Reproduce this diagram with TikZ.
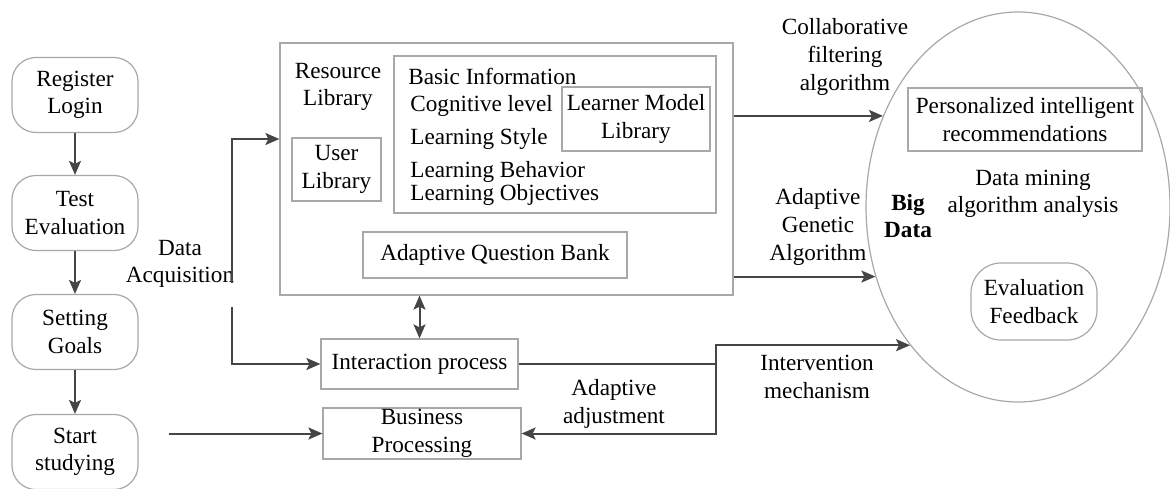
\documentclass[tikz,border=0pt]{standalone}
\usepackage{fontspec}
\setmainfont{Liberation Serif}
\usetikzlibrary{calc, shapes.geometric, arrows.meta, positioning}

\definecolor{boxgray}{HTML}{A8A8A8}
\definecolor{linegray}{HTML}{454545}

\begin{document}
\begin{tikzpicture}[
  x=0.5pt, y=-0.5pt,
  font=\fontsize{11.6}{13.8}\selectfont,
  box/.style={rectangle, draw=boxgray, line width=0.6pt, align=center, inner sep=0pt},
  stepbox/.style={box, rounded corners=12pt, minimum width=63pt, minimum height=37.5pt},
  txt/.style={align=center, inner sep=0pt},
  arrow/.style={-{Stealth[length=7pt,width=6pt,inset=1.5pt]}, draw=linegray, line width=1pt},
  dblarrow/.style={arrow, {Stealth[length=7pt,width=6pt,inset=1.5pt]}-{Stealth[length=7pt,width=6pt,inset=1.5pt]}},
  link/.style={draw=linegray, line width=1pt}
]
  \useasboundingbox (0,0) rectangle (1170,488);

  % learner steps
  \node[stepbox] (reg) at (75,95) {Register\\Login};
  \node[stepbox] (test) at (75,213) {Test\\Evaluation};
  \node[stepbox] (goals) at (75,332) {Setting\\Goals};
  \node[stepbox] (study) at (75,452) {Start\\studying};

  % resource library
  \node[box, minimum width=226.5pt, minimum height=126pt] (main) at (506.5,169) {};
  \node[txt] (res) at (338,87) {Resource\\Library};
  \node[box, minimum width=44.5pt, minimum height=31.5pt] (user) at (336.5,169.5) {User\\Library};
  \node[box, minimum width=161pt, minimum height=78.5pt] (info) at (555,134.5) {};
  \node[txt, anchor=west] (basic) at (408,76) {Basic Information};
  \node[txt, anchor=west] (cog) at (410,106) {Cognitive level};
  \node[txt, anchor=west] (lstyle) at (410,139) {Learning Style};
  \node[txt, anchor=west] (behav) at (410,172) {Learning Behavior};
  \node[txt, anchor=west] (obj) at (410,195) {Learning Objectives};
  \node[box, minimum width=74pt, minimum height=32pt] (learner) at (636,119) {Learner Model\\Library};
  \node[box, minimum width=132pt, minimum height=23pt] (qbank) at (495,255) {Adaptive Question Bank};

  \node[box, minimum width=98.5pt, minimum height=25pt] (inter) at (419.5,364) {Interaction process};
  \node[box, minimum width=99pt, minimum height=25.5pt] (busi) at (422,433.5) {Business\\Processing};

  % big data
  \node[ellipse, draw=boxgray, line width=0.6pt, minimum width=152pt, minimum height=195pt, inner sep=0pt] (bd) at (1018,207) {};
  \node[txt, font=\fontsize{11.6}{13.8}\selectfont\bfseries] (big) at (908,216) {Big\\Data};
  \node[box, minimum width=117pt, minimum height=31.5pt] (pers) at (1025,119.5) {Personalized intelligent\\recommendations};
  \node[txt] (mining) at (1033,194) {Data mining\\algorithm analysis};
  \node[box, rounded corners=15pt, minimum width=63pt, minimum height=38.5pt] (feed) at (1034,301.5) {Evaluation\\Feedback};

  % connector labels
  \node[txt] (collab) at (845,57) {Collaborative\\filtering\\algorithm};
  \node[txt] (genetic) at (818,227) {Adaptive\\Genetic\\Algorithm};
  \node[txt] (interv) at (817,377) {Intervention\\mechanism};
  \node[txt] (adjust) at (614,404) {Adaptive\\adjustment};
  \node[txt] (acq) at (180,264) {Data\\Acquisition};

  \coordinate (acqa) at (232,283);
  \coordinate (acqb) at (232,307);
  \coordinate (startin) at (169,433.5);
  \coordinate (jn) at (716,364);

  \draw[arrow] (reg) -- (test);
  \draw[arrow] (test) -- (goals);
  \draw[arrow] (goals) -- (study);
  \draw[arrow] (acqa) |- ([yshift=15pt]main.west);
  \draw[arrow] (acqb) |- (inter.west);
  \draw[arrow] (startin) -- (busi.west);
  \draw[dblarrow] (main.south -| inter.north) -- (inter.north);
  \draw[link] (inter.east) -- (jn);
  \draw[arrow] (jn) |- (bd.232.5);
  \draw[arrow] (jn) |- (busi.east);
  \draw[arrow] (main.east |- bd.146.6) -- (bd.146.6);
  \draw[arrow] (main.east |- bd.206.3) -- (bd.206.3);
\end{tikzpicture}
\end{document}
